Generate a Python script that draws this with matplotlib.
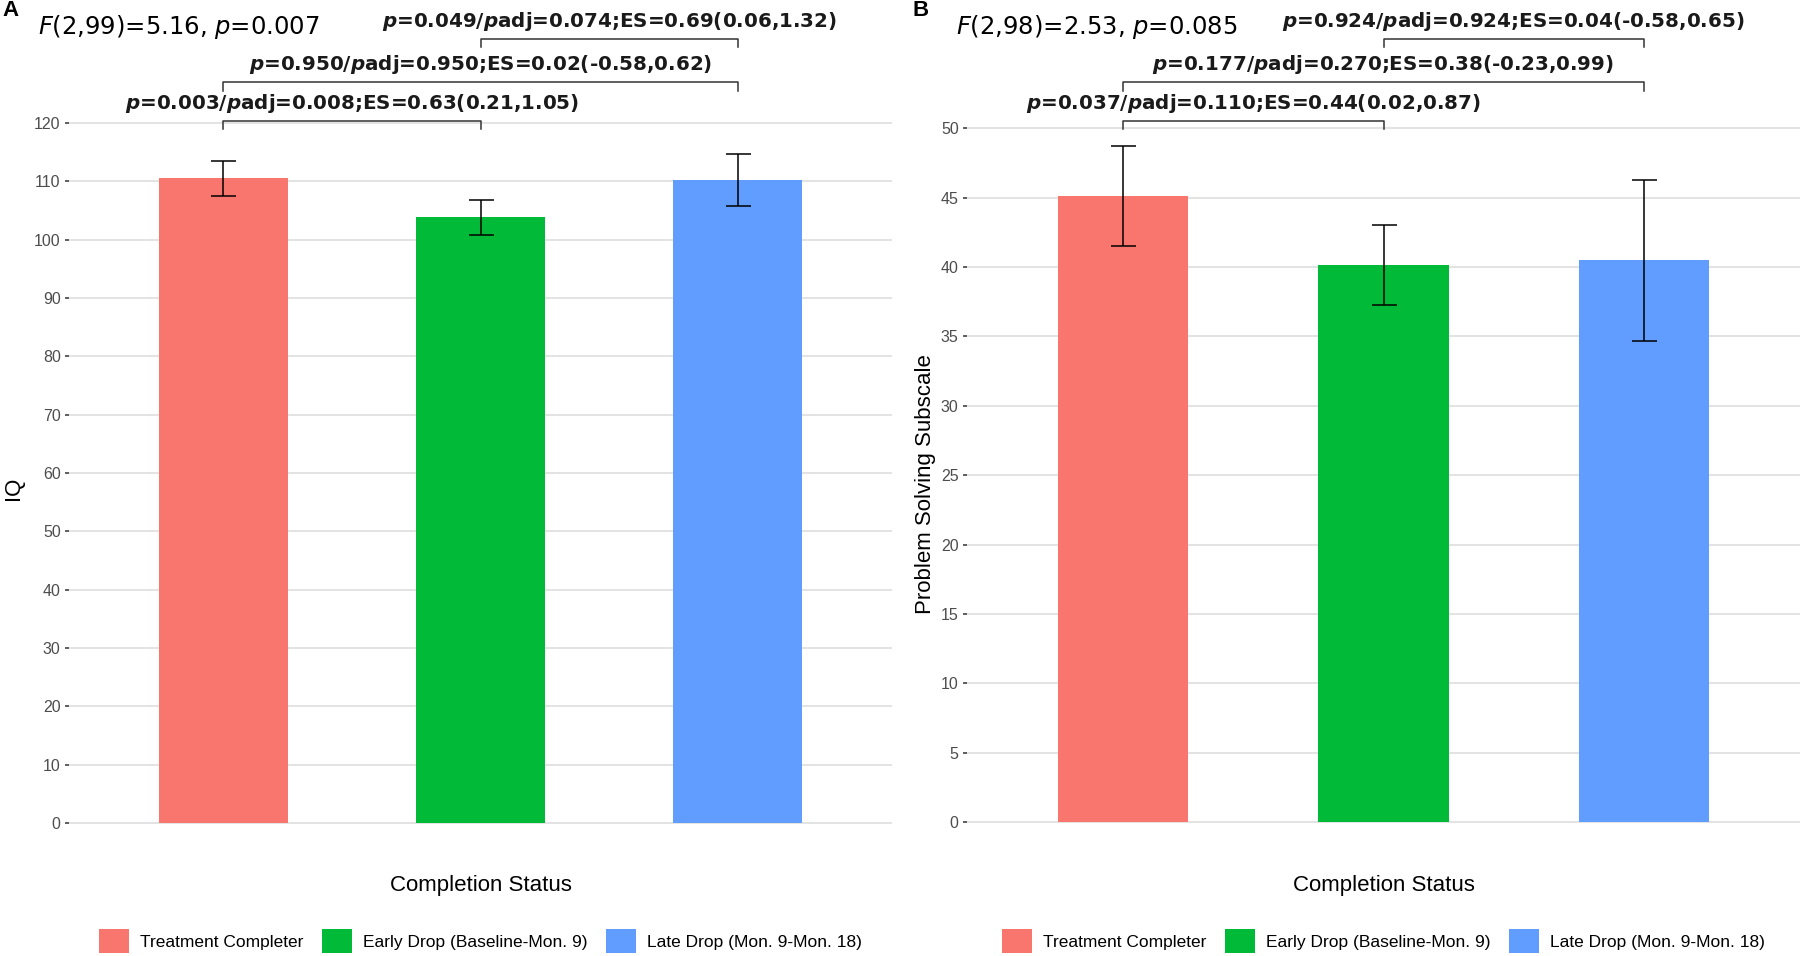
import matplotlib
matplotlib.use('Agg')
import matplotlib.pyplot as plt
from matplotlib.patches import Patch
from matplotlib.transforms import blended_transform_factory

# Groups and colours (ggplot default hues)
groups = ['Treatment Completer', 'Early Drop (Baseline-Mon. 9)', 'Late Drop (Mon. 9-Mon. 18)']
colors = ['#F8766D', '#00BA38', '#619CFF']

# Panel A: IQ
iq_mean = [110.5, 103.8, 110.2]
iq_err = [3.0, 3.05, 4.5]
iq_ticks = list(range(0, 121, 10))
iq_header = r'$F$(2,99)=5.16, $p$=0.007'
iq_pairs = [(0, 1), (0, 2), (1, 2)]
iq_labels = ['p=0.003/padj=0.008;ES=0.63(0.21,1.05)',
             'p=0.950/padj=0.950;ES=0.02(-0.58,0.62)',
             'p=0.049/padj=0.074;ES=0.69(0.06,1.32)']

# Panel B: Problem Solving Subscale
ps_mean = [45.15, 40.15, 40.5]
ps_err = [3.6, 2.9, 5.8]
ps_ticks = list(range(0, 51, 5))
ps_header = r'$F$(2,98)=2.53, $p$=0.085'
ps_pairs = [(0, 1), (0, 2), (1, 2)]
ps_labels = ['p=0.037/padj=0.110;ES=0.44(0.02,0.87)',
             'p=0.177/padj=0.270;ES=0.38(-0.23,0.99)',
             'p=0.924/padj=0.924;ES=0.04(-0.58,0.65)']

plt.rcParams['mathtext.fontset'] = 'dejavusans'

W, H = 1800, 956
fig = plt.figure(figsize=(W / 100, H / 100), dpi=100)

def fy(px):
    # figure fraction from pixel row (top origin)
    return 1 - px / H

# bracket levels (pixel rows from top): line, tick length, text offset
bracket_rows = [120.5, 82, 38.5]
tick_len = 8.5
text_off = 17

def bracket_label(s):
    s = s.replace('p=', r'$\mathbfit{p}$=').replace('/padj', r'/$\mathbfit{p}$adj')
    return s

def draw_panel(rect, means, errs, ylim, ticks, ylabel, ypad, header, pairs, labels, letter, hx, lx):
    ax = fig.add_axes(rect)
    xs = [1, 2, 3]
    ax.bar(xs, means, width=0.5, color=colors, zorder=2)
    ax.errorbar(xs, means, yerr=errs, fmt='none', ecolor='black', elinewidth=1.1,
                capsize=9, capthick=1.1, zorder=3)
    ax.set_xlim(0.4, 3.6)
    ax.set_ylim(*ylim)
    ax.set_yticks(ticks)
    ax.set_xticks([])
    ax.yaxis.grid(True, color='#E3E3E3', linewidth=1.4, zorder=0)
    ax.set_axisbelow(True)
    for sp in ax.spines.values():
        sp.set_visible(False)
    ax.tick_params(axis='y', length=3, width=1.1, color='#333333', pad=3,
                   labelsize=11.5, labelcolor='#4D4D4D', labelfontfamily='Liberation Sans')
    ax.set_xlabel('Completion Status', fontsize=16, family='Liberation Sans', labelpad=14)
    ax.set_ylabel(ylabel, fontsize=16, family='Liberation Sans', labelpad=ypad)

    tr = blended_transform_factory(ax.transData, fig.transFigure)
    for (i, j), lab, row in zip(pairs, labels, bracket_rows):
        x1, x2 = xs[i], xs[j]
        ax.plot([x1, x1, x2, x2], [fy(row + tick_len), fy(row), fy(row), fy(row + tick_len)],
                color='#333333', linewidth=1.1, transform=tr, clip_on=False)
        ax.text((x1 + x2) / 2, fy(row - text_off), bracket_label(lab), transform=tr,
                ha='center', va='center', fontsize=14.3, fontweight='bold', color='#1A1A1A')

    fig.text(hx / W, fy(27), header, fontsize=17.5, ha='left', va='center')
    fig.text(lx / W, fy(11), letter, fontsize=16, fontweight='bold',
             family='Liberation Sans', ha='left', va='center')

    handles = [Patch(facecolor=c, edgecolor='none') for c in colors]
    ax.legend(handles, groups, loc='center', ncol=3, frameon=False,
              bbox_to_anchor=(rect[0] + rect[2] / 2, fy(941)), bbox_transform=fig.transFigure,
              prop={'family': 'Liberation Sans', 'size': 12.5},
              handlelength=1.72, handleheight=1.8, handletextpad=0.63, columnspacing=1.1)
    return ax

draw_panel([69 / W, fy(856), 823 / W, 736 / H], iq_mean, iq_err, (-5.66, 120.5),
           iq_ticks, 'IQ', 7, iq_header, iq_pairs, iq_labels, 'A', 38, 2)
draw_panel([967 / W, fy(856), 833 / W, 744.3 / H], ps_mean, ps_err, (-2.45, 51.2),
           ps_ticks, 'Problem Solving Subscale', 3.5, ps_header, ps_pairs, ps_labels, 'B', 956, 913)

fig.savefig('out.png', dpi=100)
